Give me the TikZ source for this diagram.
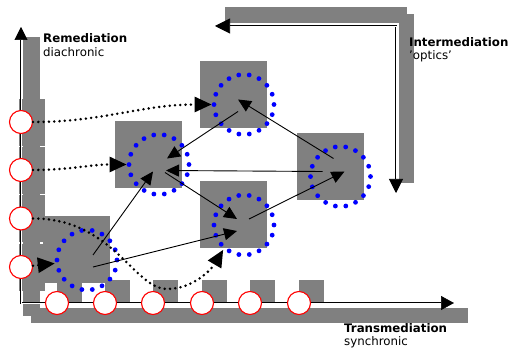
\documentclass[tikz,border=0pt]{standalone}
\usepackage{fontspec}
\setmainfont{DejaVu Sans}
\usetikzlibrary{arrows.meta}

\tikzset{
	shadowbox/.style={fill=gray, draw=none, shape=rectangle, minimum size=67pt, inner sep=0pt},
	ring/.style={shape=circle, minimum size=60pt, inner sep=0pt, draw=blue, line width=4.8pt, line cap=round, dash pattern=on 0pt off 10.47pt},
	station/.style={shape=circle, minimum size=23pt, inner sep=0pt, fill=white, draw=red, line width=1.1pt},
	link/.style={line width=0.9pt, -{Triangle[length=13pt, width=12pt]}},
	trace/.style={line width=2.8pt, line cap=round, dash pattern=on 0pt off 5.3pt, -{Triangle[length=17pt, width=15pt]}},
	axisline/.style={double, line width=0.6pt, double distance=0.9pt},
	heading/.style={anchor=base west, inner sep=0pt, font=\fontsize{11.8}{14}\selectfont\bfseries},
	subheading/.style={anchor=base west, inner sep=0pt, font=\fontsize{11.8}{14}\selectfont},
}

\begin{document}
\begin{tikzpicture}[x=1pt, y=-1pt]
	\useasboundingbox (0,0) rectangle (512,352);

	\fill [gray] (23,37) rectangle (40,316);
	\foreach \y in {122,170,218,267}
		\fill [gray] (19,\y-23) rectangle (45,\y+24);
	\fill [gray] (31,308) rectangle (468,323);
	\foreach \x in {57,105,153,202,250,299}
		\fill [gray] (\x,280) rectangle (\x+25,303);
	\fill [gray] (225,7) rectangle (407,23);
	\fill [gray] (399,14) rectangle (414,183);

	\node [shadowbox] (sqA) at (76.5,250) {};
	\node [shadowbox] (sqB) at (148.5,154.5) {};
	\node [shadowbox] (sqC) at (233.5,94.5) {};
	\node [shadowbox] (sqD) at (233.5,215) {};
	\node [shadowbox] (sqE) at (330,166.5) {};

	\coordinate (ytip) at (21,27);
	\coordinate (origin) at (21,303);
	\coordinate (xtip) at (454,303);
	\coordinate (itip) at (215,26);
	\coordinate (icorner) at (396,26);
	\coordinate (ibottom) at (396,193);
	\coordinate (dip) at (167,289);

	\draw [axisline, {Triangle[length=13pt, width=13pt]}-{Triangle[length=13pt, width=14pt]}] (ytip) -- (origin) -- (xtip);
	\draw [axisline, {Triangle[length=15pt, width=15pt]}-{Triangle[length=14pt, width=14pt]}] (itip) -- (icorner) -- (ibottom);

	\node [station] (l1) at (21,122) {};
	\node [station] (l2) at (21,170) {};
	\node [station] (l3) at (21,218.5) {};
	\node [station] (l4) at (21,267) {};

	\node [station] (b1) at (57,303) {};
	\node [station] (b2) at (105,303) {};
	\node [station] (b3) at (153,303) {};
	\node [station] (b4) at (202,303) {};
	\node [station] (b5) at (250,303) {};
	\node [station] (b6) at (299,303) {};

	\node [ring] (A) at ([shift={(10.5,10)}]sqA.center) {};
	\node [ring] (B) at ([shift={(10.5,10)}]sqB.center) {};
	\node [ring] (C) at ([shift={(10.5,10)}]sqC.center) {};
	\node [ring] (D) at ([shift={(10.5,10)}]sqD.center) {};
	\node [ring] (E) at ([shift={(10.5,10)}]sqE.center) {};

	\draw [trace] (l1) to[out=0, in=180] (C);
	\draw [trace] (l2) to[out=0, in=180] (B);
	\draw [trace] (l3) .. controls +(92,0) and +(-33,0) .. (dip) .. controls +(28,0) and +(-10,17) .. (D.230);
	\draw [trace] (l4) -- (A);

	\draw [link] ([shift={(6,-5)}]A.center) -- ([shift={(-6,7)}]B.center);
	\draw [link] ([shift={(6,7)}]A.center) -- ([shift={(-7,6)}]D.center);
	\draw [link] ([shift={(-6,7)}]C.center) -- ([shift={(8,-6)}]B.center);
	\draw [link] ([shift={(-18,-5)}]E.center) -- ([shift={(7,6)}]B.center);
	\draw [link] ([shift={(-7,-18)}]E.center) -- ([shift={(-6,-5)}]C.center);
	\draw [link] ([shift={(6,8)}]B.center) -- ([shift={(-7,-6)}]D.center);
	\draw [link] ([shift={(5,-6)}]D.center) -- ([shift={(4,-5)}]E.center);

	\node [heading] (remtitle) at (43,43) {Remediation};
	\node [subheading] (remsub) at (43,57) {diachronic};
	\node [heading] (intertitle) at (409,47) {Intermediation};
	\node [subheading] (intersub) at (409,60) {’optics’};
	\node [heading] (transtitle) at (344,333) {Transmediation};
	\node [subheading] (transsub) at (344,346) {synchronic};
\end{tikzpicture}
\end{document}
